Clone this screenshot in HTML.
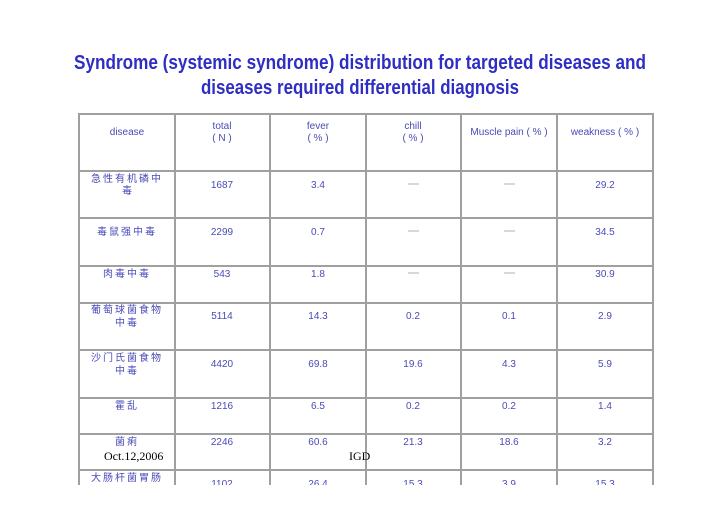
<!DOCTYPE html>
<html><head><meta charset="utf-8"><style>
html,body{margin:0;padding:0;background:#fff;}
svg{display:block;}
</style></head><body>
<svg width="720" height="509" xmlns="http://www.w3.org/2000/svg">
<rect width="720" height="509" fill="#fff"/>
<g font-family="Liberation Sans, sans-serif" fill="#2e2ec4" font-size="20" font-weight="bold">
<text x="74" y="69" textLength="572" lengthAdjust="spacingAndGlyphs">Syndrome (systemic syndrome) distribution for targeted diseases and</text>
<text x="201" y="94" textLength="318" lengthAdjust="spacingAndGlyphs">diseases required differential diagnosis</text>
</g>
<g stroke="#a0a0a0" stroke-width="2" fill="none">
<line x1="79" y1="114" x2="79" y2="485"/>
<line x1="175" y1="114" x2="175" y2="485"/>
<line x1="270" y1="114" x2="270" y2="485"/>
<line x1="366" y1="114" x2="366" y2="485"/>
<line x1="461" y1="114" x2="461" y2="485"/>
<line x1="557" y1="114" x2="557" y2="485"/>
<line x1="653" y1="114" x2="653" y2="485"/>
<line x1="78" y1="114" x2="654" y2="114"/>
<line x1="78" y1="171" x2="654" y2="171"/>
<line x1="78" y1="218" x2="654" y2="218"/>
<line x1="78" y1="266" x2="654" y2="266"/>
<line x1="78" y1="303" x2="654" y2="303"/>
<line x1="78" y1="350" x2="654" y2="350"/>
<line x1="78" y1="398" x2="654" y2="398"/>
<line x1="78" y1="434" x2="654" y2="434"/>
<line x1="78" y1="470" x2="654" y2="470"/>
</g>
<g font-family="Liberation Sans, 'Noto Sans CJK SC', sans-serif" fill="#4a4ab8" font-size="10" text-anchor="middle">
<text x="127" y="135">disease</text>
<text x="222" y="129">total</text><text x="222" y="141">( N )</text>
<text x="318" y="129">fever</text><text x="318" y="141">( % )</text>
<text x="413" y="129">chill</text><text x="413" y="141">( % )</text>
<text x="509" y="135">Muscle pain ( % )</text>
<text x="605" y="135">weakness ( % )</text>

<text x="127" y="182" letter-spacing="2">急性有机磷中</text><text x="127" y="194">毒</text>
<text x="222" y="188">1687</text><text x="318" y="188">3.4</text>
<text x="605" y="188">29.2</text>

<text x="127" y="235" letter-spacing="2">毒鼠强中毒</text>
<text x="222" y="235">2299</text><text x="318" y="235">0.7</text>
<text x="605" y="235">34.5</text>

<text x="127" y="277" letter-spacing="2">肉毒中毒</text>
<text x="222" y="277">543</text><text x="318" y="277">1.8</text>
<text x="605" y="277">30.9</text>

<text x="127" y="313" letter-spacing="2">葡萄球菌食物</text><text x="127" y="326" letter-spacing="2">中毒</text>
<text x="222" y="319">5114</text><text x="318" y="319">14.3</text><text x="413" y="319">0.2</text><text x="509" y="319">0.1</text><text x="605" y="319">2.9</text>

<text x="127" y="361" letter-spacing="2">沙门氏菌食物</text><text x="127" y="374" letter-spacing="2">中毒</text>
<text x="222" y="367">4420</text><text x="318" y="367">69.8</text><text x="413" y="367">19.6</text><text x="509" y="367">4.3</text><text x="605" y="367">5.9</text>

<text x="127" y="409" letter-spacing="2">霍乱</text>
<text x="222" y="409">1216</text><text x="318" y="409">6.5</text><text x="413" y="409">0.2</text><text x="509" y="409">0.2</text><text x="605" y="409">1.4</text>

<text x="127" y="445" letter-spacing="2">菌痢</text>
<text x="222" y="445">2246</text><text x="318" y="445">60.6</text><text x="413" y="445">21.3</text><text x="509" y="445">18.6</text><text x="605" y="445">3.2</text>

<text x="127" y="481" letter-spacing="2">大肠杆菌胃肠</text>
<text x="222" y="487">1102</text><text x="318" y="487">26.4</text><text x="413" y="487">15.3</text><text x="509" y="487">3.9</text><text x="605" y="487">15.3</text>
</g>
<g stroke="#b0b0b0" stroke-width="1">
<line x1="408" y1="184" x2="419" y2="184"/><line x1="504" y1="184" x2="515" y2="184"/>
<line x1="408" y1="231" x2="419" y2="231"/><line x1="504" y1="231" x2="515" y2="231"/>
<line x1="408" y1="273" x2="419" y2="273"/><line x1="504" y1="273" x2="515" y2="273"/>
</g>
<rect x="0" y="485" width="720" height="24" fill="#fff"/>
<g font-family="Liberation Serif, serif" font-size="12" fill="#000">
<text x="104" y="460">Oct.12,2006</text>
<text x="349" y="460">IGD</text>
</g>
</svg>
</body></html>
